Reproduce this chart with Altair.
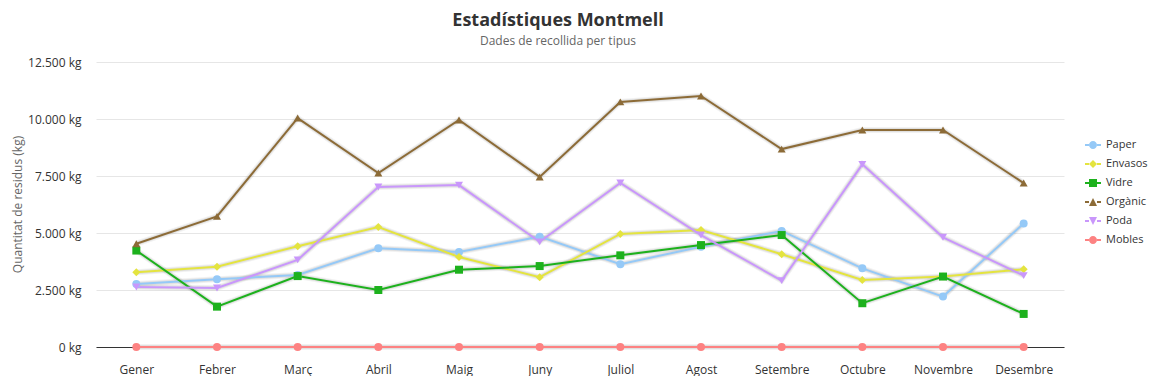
import altair as alt
import pandas as pd

months = ["Gener", "Febrer", "Març", "Abril", "Maig", "Juny",
          "Juliol", "Agost", "Setembre", "Octubre", "Novembre", "Desembre"]
series = ["Paper", "Envasos", "Vidre", "Orgànic", "Poda", "Mobles"]

paper = [2760, 2970, 3160, 4330, 4170, 4840, 3630, 4400, 5090, 3450, 2210, 5420]
envasos = [3280, 3520, 4420, 5260, 3950, 3060, 4960, 5130, 4070, 2940, 3090, 3410]
vidre = [4230, 1770, 3110, 2500, 3390, 3550, 4020, 4470, 4910, 1920, 3090, 1450]
organic = [4530, 5730, 10040, 7630, 9960, 7460, 10750, 11010, 8680, 9520, 9520, 7190]
poda = [2630, 2590, 3820, 7020, 7100, 4610, 7200, 4910, 2910, 8010, 4810, 3130]
mobles = [0, 0, 0, 0, 0, 0, 0, 0, 0, 0, 0, 0]

colors = ["#95c9f7", "#e4e43f", "#1db11d", "#8c6b37", "#c997fb", "#fd8282"]
point_shapes = ["circle", "diamond", "square", "triangle-up", "triangle-down", "circle"]
y_ticks = [0, 2500, 5000, 7500, 10000, 12500]

# legend symbols: short line with marker (unit square [-1,1])
_line = "M-1,-0.125H-0.5V0.125H-1Z M0.5,-0.125H1V0.125H0.5Z "
legend_shapes = [
    _line + "M-0.5,0A0.5,0.5 0 1,1 0.5,0A0.5,0.5 0 1,1 -0.5,0Z",
    _line + "M0,-0.5L0.5,0L0,0.5L-0.5,0Z",
    _line + "M-0.5,-0.5H0.5V0.5H-0.5Z",
    _line + "M0,-0.5L0.5,0.5L-0.5,0.5Z",
    _line + "M-0.5,-0.5L0.5,-0.5L0,0.5Z",
    _line + "M-0.5,0A0.5,0.5 0 1,1 0.5,0A0.5,0.5 0 1,1 -0.5,0Z",
]

values = [paper, envasos, vidre, organic, poda, mobles]
rows = []
for s, vals in zip(series, values):
    for m, v in zip(months, vals):
        rows.append({"Mes": m, "Tipus": s, "Kg": v})
df = pd.DataFrame(rows)

FONT = "Open Sans"

x_enc = alt.X("Mes:N", sort=months,
              scale=alt.Scale(type="point", padding=0.5),
              axis=alt.Axis(title=None, labelAngle=0, ticks=False, grid=False,
                            domainColor="#333333", domainWidth=1,
                            labelPadding=17, labelFontSize=12, labelColor="#333333"))
y_enc = alt.Y("Kg:Q", scale=alt.Scale(domain=[0, 12500], nice=False),
              axis=alt.Axis(values=y_ticks,
                            labelExpr="replace(format(datum.value, ','), ',', '.') + ' kg'",
                            title="Quantitat de residus (kg)", titleColor="#666666",
                            titleFontSize=12, titleFontWeight="normal",
                            titleX=-79, titleY=142, titleAlign="center", titleBaseline="middle",
                            domain=False, ticks=False, labelPadding=15,
                            labelFontSize=12, labelColor="#333333",
                            gridColor="#e6e6e6", gridWidth=1))

color_scale = alt.Scale(domain=series, range=colors)

base = alt.Chart(df).encode(x=x_enc, y=y_enc)

shadow1 = base.mark_line(strokeWidth=6, opacity=0.05, color="black").encode(
    detail="Tipus:N")
shadow2 = base.mark_line(strokeWidth=4, opacity=0.07, color="black").encode(
    detail="Tipus:N")

lines = base.mark_line(strokeWidth=2).encode(
    color=alt.Color("Tipus:N", scale=color_scale, legend=None))

points = base.mark_point(filled=True, size=64, opacity=1, strokeWidth=0).encode(
    color=alt.Color("Tipus:N", scale=color_scale, legend=None),
    shape=alt.Shape("Tipus:N", scale=alt.Scale(domain=series, range=point_shapes),
                    legend=None))

leg = dict(title=None, orient="none", legendX=989, legendY=75,
           symbolSize=256, symbolStrokeWidth=0,
           labelFontSize=11, labelColor="#333333",
           labelOffset=5, rowPadding=6, padding=0)

legend_layer = base.mark_point(filled=True, opacity=1).encode(
    color=alt.Color("Tipus:N", scale=color_scale, legend=alt.Legend(**leg)),
    shape=alt.Shape("Tipus:N", scale=alt.Scale(domain=series, range=legend_shapes),
                    legend=alt.Legend(**leg)),
).transform_filter("false")

chart = alt.layer(shadow1, shadow2, lines, points, legend_layer).resolve_scale(
    color="independent", shape="independent"
).properties(
    width=968, height=285,
    autosize=alt.AutoSizeParams(type="none"),
    padding={"left": 88, "top": 54, "right": 86, "bottom": 29},
    title=alt.TitleParams(text="Estadístiques Montmell",
                          subtitle="Dades de recollida per tipus",
                          fontSize=18, fontWeight="bold", color="#333333",
                          subtitleFontSize=12, subtitleColor="#666666",
                          anchor="middle", dx=-22, offset=9, subtitlePadding=6,
                          font=FONT, subtitleFont=FONT),
).configure(font=FONT).configure_view(stroke=None)

chart.save("out.html", embed_options={"renderer": "svg", "actions": False})
